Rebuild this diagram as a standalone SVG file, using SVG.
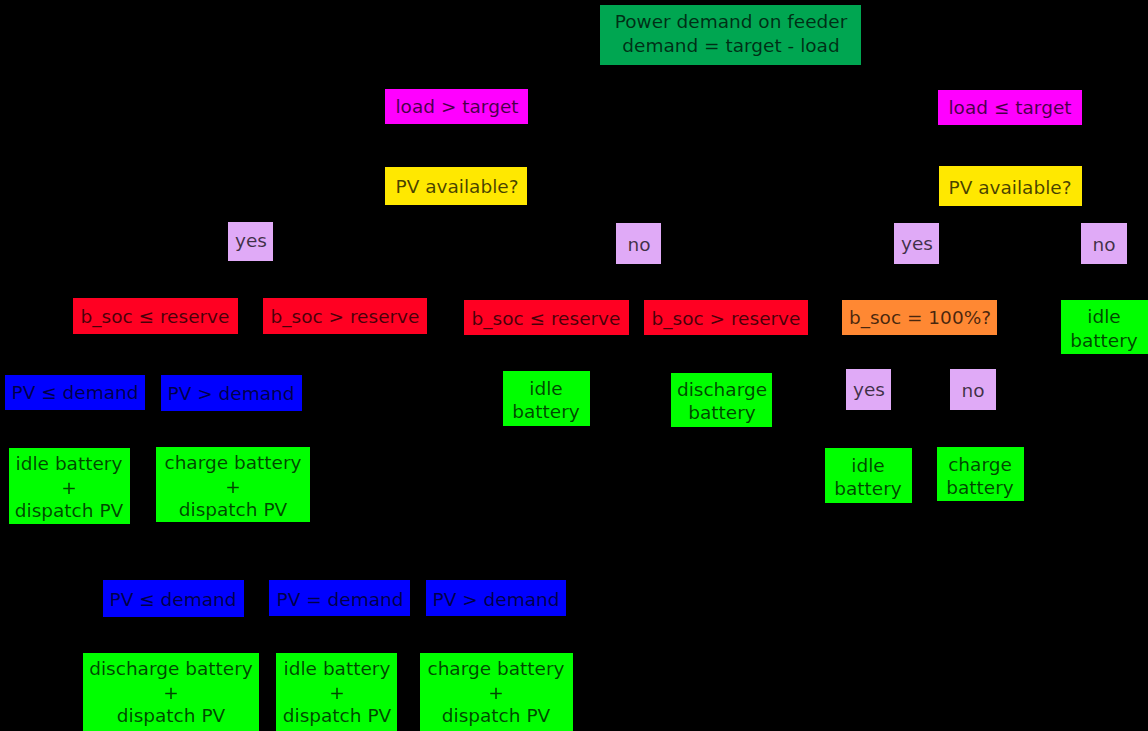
<svg xmlns="http://www.w3.org/2000/svg" width="1148" height="731" viewBox="0 0 1148 731">
<defs>
<marker id="arr" viewBox="0 0 10 10" refX="10" refY="5" markerWidth="6" markerHeight="6" orient="auto"><path d="M0,0L10,5L0,10z" fill="#000"/></marker>
<style>
text{font-family:"DejaVu Sans",Verdana,sans-serif;font-size:18.5px;fill:#000;fill-opacity:0.72;text-anchor:middle}
.root{fill:#00a651}
.mag{fill:#ff00ff}
.yel{fill:#ffe800}
.lav{fill:#e0aaf7}
.red{fill:#ff0022}
.blu{fill:#0000ff}
.grn{fill:#00ff00}
.org{fill:#ff8833}
.conn{stroke:#000;stroke-width:1.5;fill:none;marker-end:url(#arr)}
</style>
</defs>
<rect width="1148" height="731" fill="#000"/>
<g id="connectors">
<path class="conn" d="M730,65 L457,89"/>
<path class="conn" d="M730,65 L1010,90"/>
<path class="conn" d="M457,124 L457,167"/>
<path class="conn" d="M1010,125 L1010,166"/>
<path class="conn" d="M457,205 L251,222"/>
<path class="conn" d="M457,205 L639,223"/>
<path class="conn" d="M1010,206 L916,223"/>
<path class="conn" d="M1010,206 L1104,223"/>
<path class="conn" d="M251,261 L155,298"/>
<path class="conn" d="M251,261 L345,298"/>
<path class="conn" d="M639,264 L546,300"/>
<path class="conn" d="M639,264 L726,300"/>
<path class="conn" d="M916,264 L920,300"/>
<path class="conn" d="M1104,264 L1104,300"/>
<path class="conn" d="M155,334 L75,375"/>
<path class="conn" d="M155,334 L231,375"/>
<path class="conn" d="M345,334 L173,580"/>
<path class="conn" d="M345,334 L340,580"/>
<path class="conn" d="M345,334 L496,580"/>
<path class="conn" d="M546,335 L546,371"/>
<path class="conn" d="M726,335 L722,373"/>
<path class="conn" d="M920,335 L868,369"/>
<path class="conn" d="M920,335 L973,369"/>
<path class="conn" d="M75,410 L70,448"/>
<path class="conn" d="M231,411 L233,447"/>
<path class="conn" d="M868,410 L868,448"/>
<path class="conn" d="M973,410 L980,447"/>
<path class="conn" d="M173,617 L171,653"/>
<path class="conn" d="M340,616 L337,653"/>
<path class="conn" d="M496,616 L496,653"/>
</g>
<g id="root"><rect class="root" x="600" y="5" width="261" height="60"/><text x="731" y="28">Power demand on feeder</text><text x="731" y="52">demand = target - load</text></g>
<g id="load-gt"><rect class="mag" x="385" y="89" width="143" height="35"/><text x="457" y="113">load &gt; target</text></g>
<g id="pv-left"><rect class="yel" x="385" y="167" width="142" height="38"/><text x="457" y="193">PV available?</text></g>
<g id="yes-left"><rect class="lav" x="228" y="222" width="45" height="39"/><text x="251" y="247">yes</text></g>
<g id="no-mid"><rect class="lav" x="616" y="223" width="45" height="41"/><text x="639" y="251">no</text></g>
<g id="bsoc-le-1"><rect class="red" x="73" y="298" width="165" height="36"/><text x="155" y="323">b_soc ≤ reserve</text></g>
<g id="bsoc-gt-1"><rect class="red" x="263" y="298" width="164" height="36"/><text x="345" y="323">b_soc &gt; reserve</text></g>
<g id="bsoc-le-2"><rect class="red" x="464" y="300" width="165" height="35"/><text x="546" y="325">b_soc ≤ reserve</text></g>
<g id="bsoc-gt-2"><rect class="red" x="644" y="300" width="164" height="35"/><text x="726" y="325">b_soc &gt; reserve</text></g>
<g id="pv-le-1"><rect class="blu" x="5" y="375" width="140" height="35"/><text x="75" y="399">PV ≤ demand</text></g>
<g id="pv-gt-1"><rect class="blu" x="161" y="375" width="141" height="36"/><text x="231" y="400">PV &gt; demand</text></g>
<g id="idle-dispatch-1"><rect class="grn" x="9" y="448" width="121" height="76"/><text x="69" y="470">idle battery</text><text x="69" y="494">+</text><text x="69" y="517">dispatch PV</text></g>
<g id="charge-dispatch-1"><rect class="grn" x="156" y="447" width="154" height="75"/><text x="233" y="469">charge battery</text><text x="233" y="493">+</text><text x="233" y="516">dispatch PV</text></g>
<g id="idle-mid"><rect class="grn" x="503" y="371" width="87" height="55"/><text x="546" y="395">idle</text><text x="546" y="418">battery</text></g>
<g id="discharge-mid"><rect class="grn" x="671" y="373" width="101" height="54"/><text x="722" y="396">discharge</text><text x="722" y="419">battery</text></g>
<g id="load-le"><rect class="mag" x="938" y="90" width="144" height="35"/><text x="1010" y="114">load ≤ target</text></g>
<g id="pv-right"><rect class="yel" x="939" y="166" width="143" height="40"/><text x="1010" y="194">PV available?</text></g>
<g id="yes-right"><rect class="lav" x="894" y="223" width="45" height="41"/><text x="917" y="250">yes</text></g>
<g id="no-right"><rect class="lav" x="1081" y="223" width="46" height="41"/><text x="1104" y="251">no</text></g>
<g id="bsoc-100"><rect class="org" x="842" y="300" width="155" height="35"/><text x="920" y="324">b_soc = 100%?</text></g>
<g id="idle-right"><rect class="grn" x="1061" y="300" width="87" height="54"/><text x="1104" y="323">idle</text><text x="1104" y="347">battery</text></g>
<g id="yes-100"><rect class="lav" x="846" y="369" width="45" height="41"/><text x="869" y="396">yes</text></g>
<g id="no-100"><rect class="lav" x="950" y="369" width="46" height="41"/><text x="973" y="397">no</text></g>
<g id="idle-100"><rect class="grn" x="825" y="448" width="87" height="55"/><text x="868" y="472">idle</text><text x="868" y="495">battery</text></g>
<g id="charge-100"><rect class="grn" x="937" y="447" width="87" height="54"/><text x="980" y="471">charge</text><text x="980" y="494">battery</text></g>
<g id="pv-le-2"><rect class="blu" x="103" y="580" width="141" height="37"/><text x="173" y="606">PV ≤ demand</text></g>
<g id="pv-eq"><rect class="blu" x="269" y="580" width="141" height="36"/><text x="340" y="606">PV = demand</text></g>
<g id="pv-gt-2"><rect class="blu" x="426" y="580" width="140" height="36"/><text x="496" y="606">PV &gt; demand</text></g>
<g id="discharge-dispatch"><rect class="grn" x="83" y="653" width="176" height="78"/><text x="171" y="675">discharge battery</text><text x="171" y="699">+</text><text x="171" y="722">dispatch PV</text></g>
<g id="idle-dispatch-2"><rect class="grn" x="276" y="653" width="121" height="78"/><text x="337" y="675">idle battery</text><text x="337" y="699">+</text><text x="337" y="722">dispatch PV</text></g>
<g id="charge-dispatch-2"><rect class="grn" x="420" y="653" width="153" height="78"/><text x="496" y="675">charge battery</text><text x="496" y="699">+</text><text x="496" y="722">dispatch PV</text></g>
</svg>
